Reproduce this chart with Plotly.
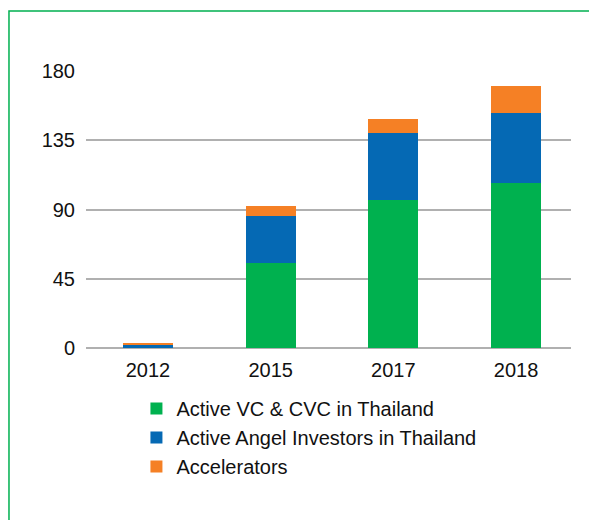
import plotly.graph_objects as go

years = ["2012", "2015", "2017", "2018"]
vc_cvc = [0, 55, 96, 107]
angels = [2, 31, 44, 46]
accelerators = [1, 6, 9, 17]
y_ticks = [0, 45, 90, 135, 180]

FONT = "Liberation Sans Narrow, Arial Narrow, Liberation Sans, Arial, sans-serif"
GREEN = "#00B14F"
BLUE = "#0569B4"
ORANGE = "#F58025"

fig = go.Figure()
for name, vals, color in [
    ("Active VC & CVC in Thailand", vc_cvc, GREEN),
    ("Active Angel Investors in Thailand", angels, BLUE),
    ("Accelerators", accelerators, ORANGE),
]:
    fig.add_trace(go.Bar(x=years, y=vals, name=name, marker=dict(color=color, line_width=0)))

# green frame round the chart (page body adds an 8px offset)
fig.add_shape(
    type="rect", xref="paper", yref="paper",
    x0=-0.1588, x1=1.5, y0=-1.0, y1=1.2166,
    line=dict(color="#00B050", width=1.5), fillcolor="rgba(0,0,0,0)",
)

fig.update_layout(
    width=597, height=520,
    margin=dict(l=78, r=34, t=63, b=180),
    barmode="stack", bargap=0.592,
    paper_bgcolor="white", plot_bgcolor="white",
    font=dict(family=FONT, size=20, color="#111111"),
    legend=dict(
        x=0.104, y=-0.148, xanchor="left", yanchor="top",
        traceorder="normal", font=dict(size=20), itemwidth=30,
        tracegroupgap=0, bgcolor="rgba(0,0,0,0)",
    ),
    xaxis=dict(range=[-0.505, 3.448], showline=False, showgrid=False, ticks="",
               ticklabelstandoff=8, automargin=False),
    yaxis=dict(
        range=[0, 180], tickvals=y_ticks, showgrid=True,
        gridcolor="#B0B0B0", gridwidth=1.5, zeroline=True,
        zerolinecolor="#B0B0B0", zerolinewidth=1.5,
        ticks="", ticklabelstandoff=10, automargin=False,
    ),
)

fig.write_html("out.html")
